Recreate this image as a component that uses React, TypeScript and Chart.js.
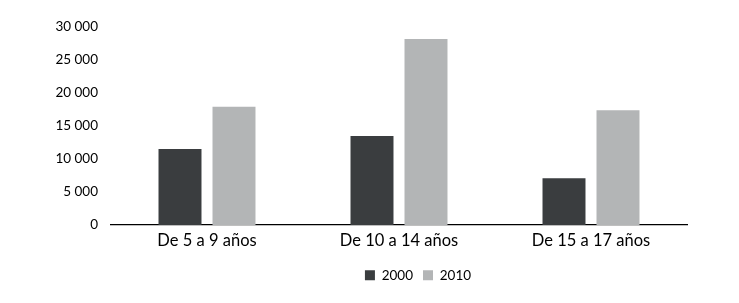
import React, { useEffect, useRef } from "react";
import { Chart, registerables } from "chart.js";

Chart.register(...registerables);

const CATEGORIES = ["De 5 a 9 años", "De 10 a 14 años", "De 15 a 17 años"];
const SERIES_NAMES = ["2000", "2010"];
const VALUES_2000 = [11500, 13500, 7100];
const VALUES_2010 = [17900, 28200, 17400];
const COLORS = ["#3a3d3f", "#b3b5b6"];

const FONT = "Lato, 'Open Sans', sans-serif";

const formatThousands = (v: number) =>
  String(v).replace(/\B(?=(\d{3})+(?!\d))/g, " ");

const legendShift = {
  id: "legendShift",
  afterLayout(chart: any) {
    const lg = chart.legend;
    if (!lg) return;
    const target = 418;
    const d = target - (lg.left + lg.right) / 2;
    lg.left += d;
    lg.right += d;
  },
};

export default function App() {
  const ref = useRef<HTMLCanvasElement | null>(null);

  useEffect(() => {
    document.body.style.margin = "0";
    if (!ref.current) return;
    const chart = new Chart(ref.current, {
      type: "bar",
      data: {
        labels: CATEGORIES,
        datasets: [
          {
            label: SERIES_NAMES[0],
            data: VALUES_2000,
            backgroundColor: COLORS[0],
            barPercentage: 0.796,
            categoryPercentage: 0.5625,
          },
          {
            label: SERIES_NAMES[1],
            data: VALUES_2010,
            backgroundColor: COLORS[1],
            barPercentage: 0.796,
            categoryPercentage: 0.5625,
          },
        ],
      },
      options: {
        animation: false,
        responsive: true,
        maintainAspectRatio: false,
        layout: { padding: { top: 27, right: 52, bottom: 11, left: 0 } },
        plugins: {
          tooltip: { enabled: false },
          legend: {
            position: "bottom",
            labels: {
              boxWidth: 10,
              boxHeight: 10,
              padding: 10,
              color: "#000",
              font: { family: FONT, size: 13.5 },
            },
          },
        },
        scales: {
          x: {
            grid: { display: false, drawTicks: false },
            border: { display: true, color: "#000", width: 1.3 },
            ticks: {
              color: "#000",
              padding: 6,
              font: { family: FONT, size: 16.5 },
            },
            afterFit: (s: any) => {
              s.height = 33.5;
            },
          },
          y: {
            min: 0,
            max: 30000,
            grid: { display: false, drawTicks: false },
            border: { display: false },
            ticks: {
              stepSize: 5000,
              padding: 13,
              color: "#000",
              font: { family: FONT, size: 13.5 },
              callback: (v: any) => formatThousands(Number(v)),
            },
            afterFit: (s: any) => {
              s.width = 111;
            },
          },
        },
      },
      plugins: [legendShift],
    });
    return () => chart.destroy();
  }, []);

  return (
    <div style={{ width: 739, height: 303, position: "relative" }}>
      <canvas ref={ref} />
    </div>
  );
}
